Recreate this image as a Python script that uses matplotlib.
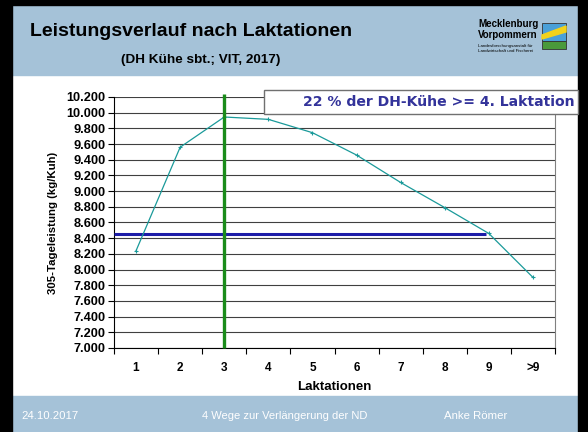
import matplotlib
matplotlib.use("Agg")
import matplotlib.pyplot as plt
from matplotlib.patches import Rectangle, Polygon
import numpy as np

categories = ["1", "2", "3", "4", "5", "6", "7", "8", "9", ">9"]
leistung = [8240, 9560, 9945, 9915, 9745, 9460, 9110, 8790, 8460, 7900]
mittel = 8450
yticks = list(range(7000, 10201, 200))
ytick_labels = [f"{v:,}".replace(",", ".") for v in yticks]

W, H = 588, 432
fig = plt.figure(figsize=(W / 100, H / 100), dpi=100)

def fx(px):
    return px / W

def fy(py):
    return 1 - py / H

# slide background
fig.patches.append(Rectangle((0, 0), 1, 1, transform=fig.transFigure, color="white", zorder=-10))
hdr = "#a5c2d8"
fig.patches.append(Rectangle((fx(12), fy(75)), fx(566), 70 / H, transform=fig.transFigure, color=hdr, zorder=-9))
fig.patches.append(Rectangle((fx(12), 0), fx(566), 36 / H, transform=fig.transFigure, color=hdr, zorder=-9))
# black border
fig.patches.append(Rectangle((0, 0), fx(12), 1, transform=fig.transFigure, color="black", zorder=-8))
fig.patches.append(Rectangle((fx(578), 0), fx(10), 1, transform=fig.transFigure, color="black", zorder=-8))
fig.patches.append(Rectangle((0, fy(5)), 1, 5 / H, transform=fig.transFigure, color="black", zorder=-8))

# titles
fig.text(fx(30), fy(31), "Leistungsverlauf nach Laktationen", fontsize=14, fontweight="bold",
         family="Liberation Sans", va="center", ha="left")
fig.text(fx(121), fy(60), "(DH Kühe sbt.; VIT, 2017)", fontsize=9.7, fontweight="bold",
         family="Liberation Sans", va="center", ha="left")

# logo
fig.text(fx(478), fy(24), "Mecklenburg", fontsize=7, fontweight="bold", family="Liberation Sans", va="center")
fig.text(fx(478), fy(35), "Vorpommern", fontsize=7, fontweight="bold", family="Liberation Sans", va="center")
fig.text(fx(478), fy(46), "Landesforschungsanstalt für", fontsize=3.2, family="Liberation Sans", va="center")
fig.text(fx(478), fy(51), "Landwirtschaft und Fischerei", fontsize=3.2, family="Liberation Sans", va="center")
fig.patches.append(Rectangle((fx(542), fy(41)), fx(24), 18 / H, transform=fig.transFigure,
                             facecolor="#4aa0d8", edgecolor="#333333", lw=0.6, zorder=5))
fig.patches.append(Polygon([(fx(542), fy(35)), (fx(566), fy(26)), (fx(566), fy(32)), (fx(542), fy(39))],
                           closed=True, transform=fig.transFigure, color="#f2d21a", zorder=6))
fig.patches.append(Rectangle((fx(542), fy(49)), fx(24), 8 / H, transform=fig.transFigure,
                             facecolor="#4a9a3a", edgecolor="#333333", lw=0.6, zorder=5))

# footer
fig.text(fx(21), fy(416), "24.10.2017", fontsize=8.2, color="white", family="Liberation Sans", va="center")
fig.text(fx(285), fy(416), "4 Wege zur Verlängerung der ND", fontsize=8, color="white",
         family="Liberation Sans", va="center", ha="center")
fig.text(fx(444), fy(416), "Anke Römer", fontsize=8.2, color="white", family="Liberation Sans", va="center")

# axes
ax = fig.add_axes([fx(114), fy(348), fx(555 - 114), (348 - 97) / H])
x = np.arange(1, len(categories) + 1)
ax.set_xlim(0.5, len(categories) + 0.5)
ax.set_ylim(7000, 10200)
ax.set_yticks(yticks)
ax.set_yticklabels(ytick_labels, fontsize=9.2, fontweight="bold", family="Liberation Sans")
ax.set_xticks(x)
ax.set_xticklabels(categories, fontsize=8.5, fontweight="bold", family="Liberation Sans")
ax.set_xticks(np.arange(0.5, len(categories) + 1), minor=True)
ax.tick_params(axis="x", which="major", length=0, pad=10)
ax.tick_params(axis="x", which="minor", length=4, width=0.8, direction="out")
ax.tick_params(axis="y", length=4, width=0.8, direction="out", pad=2)
ax.yaxis.grid(True, color="#404040", lw=0.8)
ax.set_axisbelow(True)
for s in ["left", "bottom"]:
    ax.spines[s].set_color("black")
    ax.spines[s].set_linewidth(0.8)
ax.spines["right"].set_color("#808080")
ax.spines["top"].set_visible(False)

ax.set_xlabel("Laktationen", fontsize=9.5, fontweight="bold", family="Liberation Sans", labelpad=5)
ax.set_ylabel("305-Tageleistung (kg/Kuh)", fontsize=8.2, fontweight="bold", family="Liberation Sans", labelpad=6)

ax.plot(x, leistung, color="#1a9a9a", lw=0.9, marker="+", markersize=3, markeredgewidth=0.8, zorder=4)
ax.plot([0.5, 8.93], [mittel, mittel], color="#1c1ca8", lw=2.2, zorder=3, solid_capstyle="butt")
ax.plot([3, 3], [7000, 10240], color="#1a8c1a", lw=2.4, zorder=5, clip_on=False, solid_capstyle="butt")

# annotation box
fig.patches.append(Rectangle((fx(264), fy(114)), fx(578 - 264), 24 / H, transform=fig.transFigure,
                             facecolor="white", edgecolor="#707070", lw=1.0, zorder=10))
fig.text(fx(575), fy(102), "22 % der DH-Kühe >= 4. Laktation", fontsize=10.1, fontweight="bold",
         color="#33339a", family="DejaVu Sans", va="center", ha="right", zorder=11)

fig.savefig("out.png", dpi=100)
